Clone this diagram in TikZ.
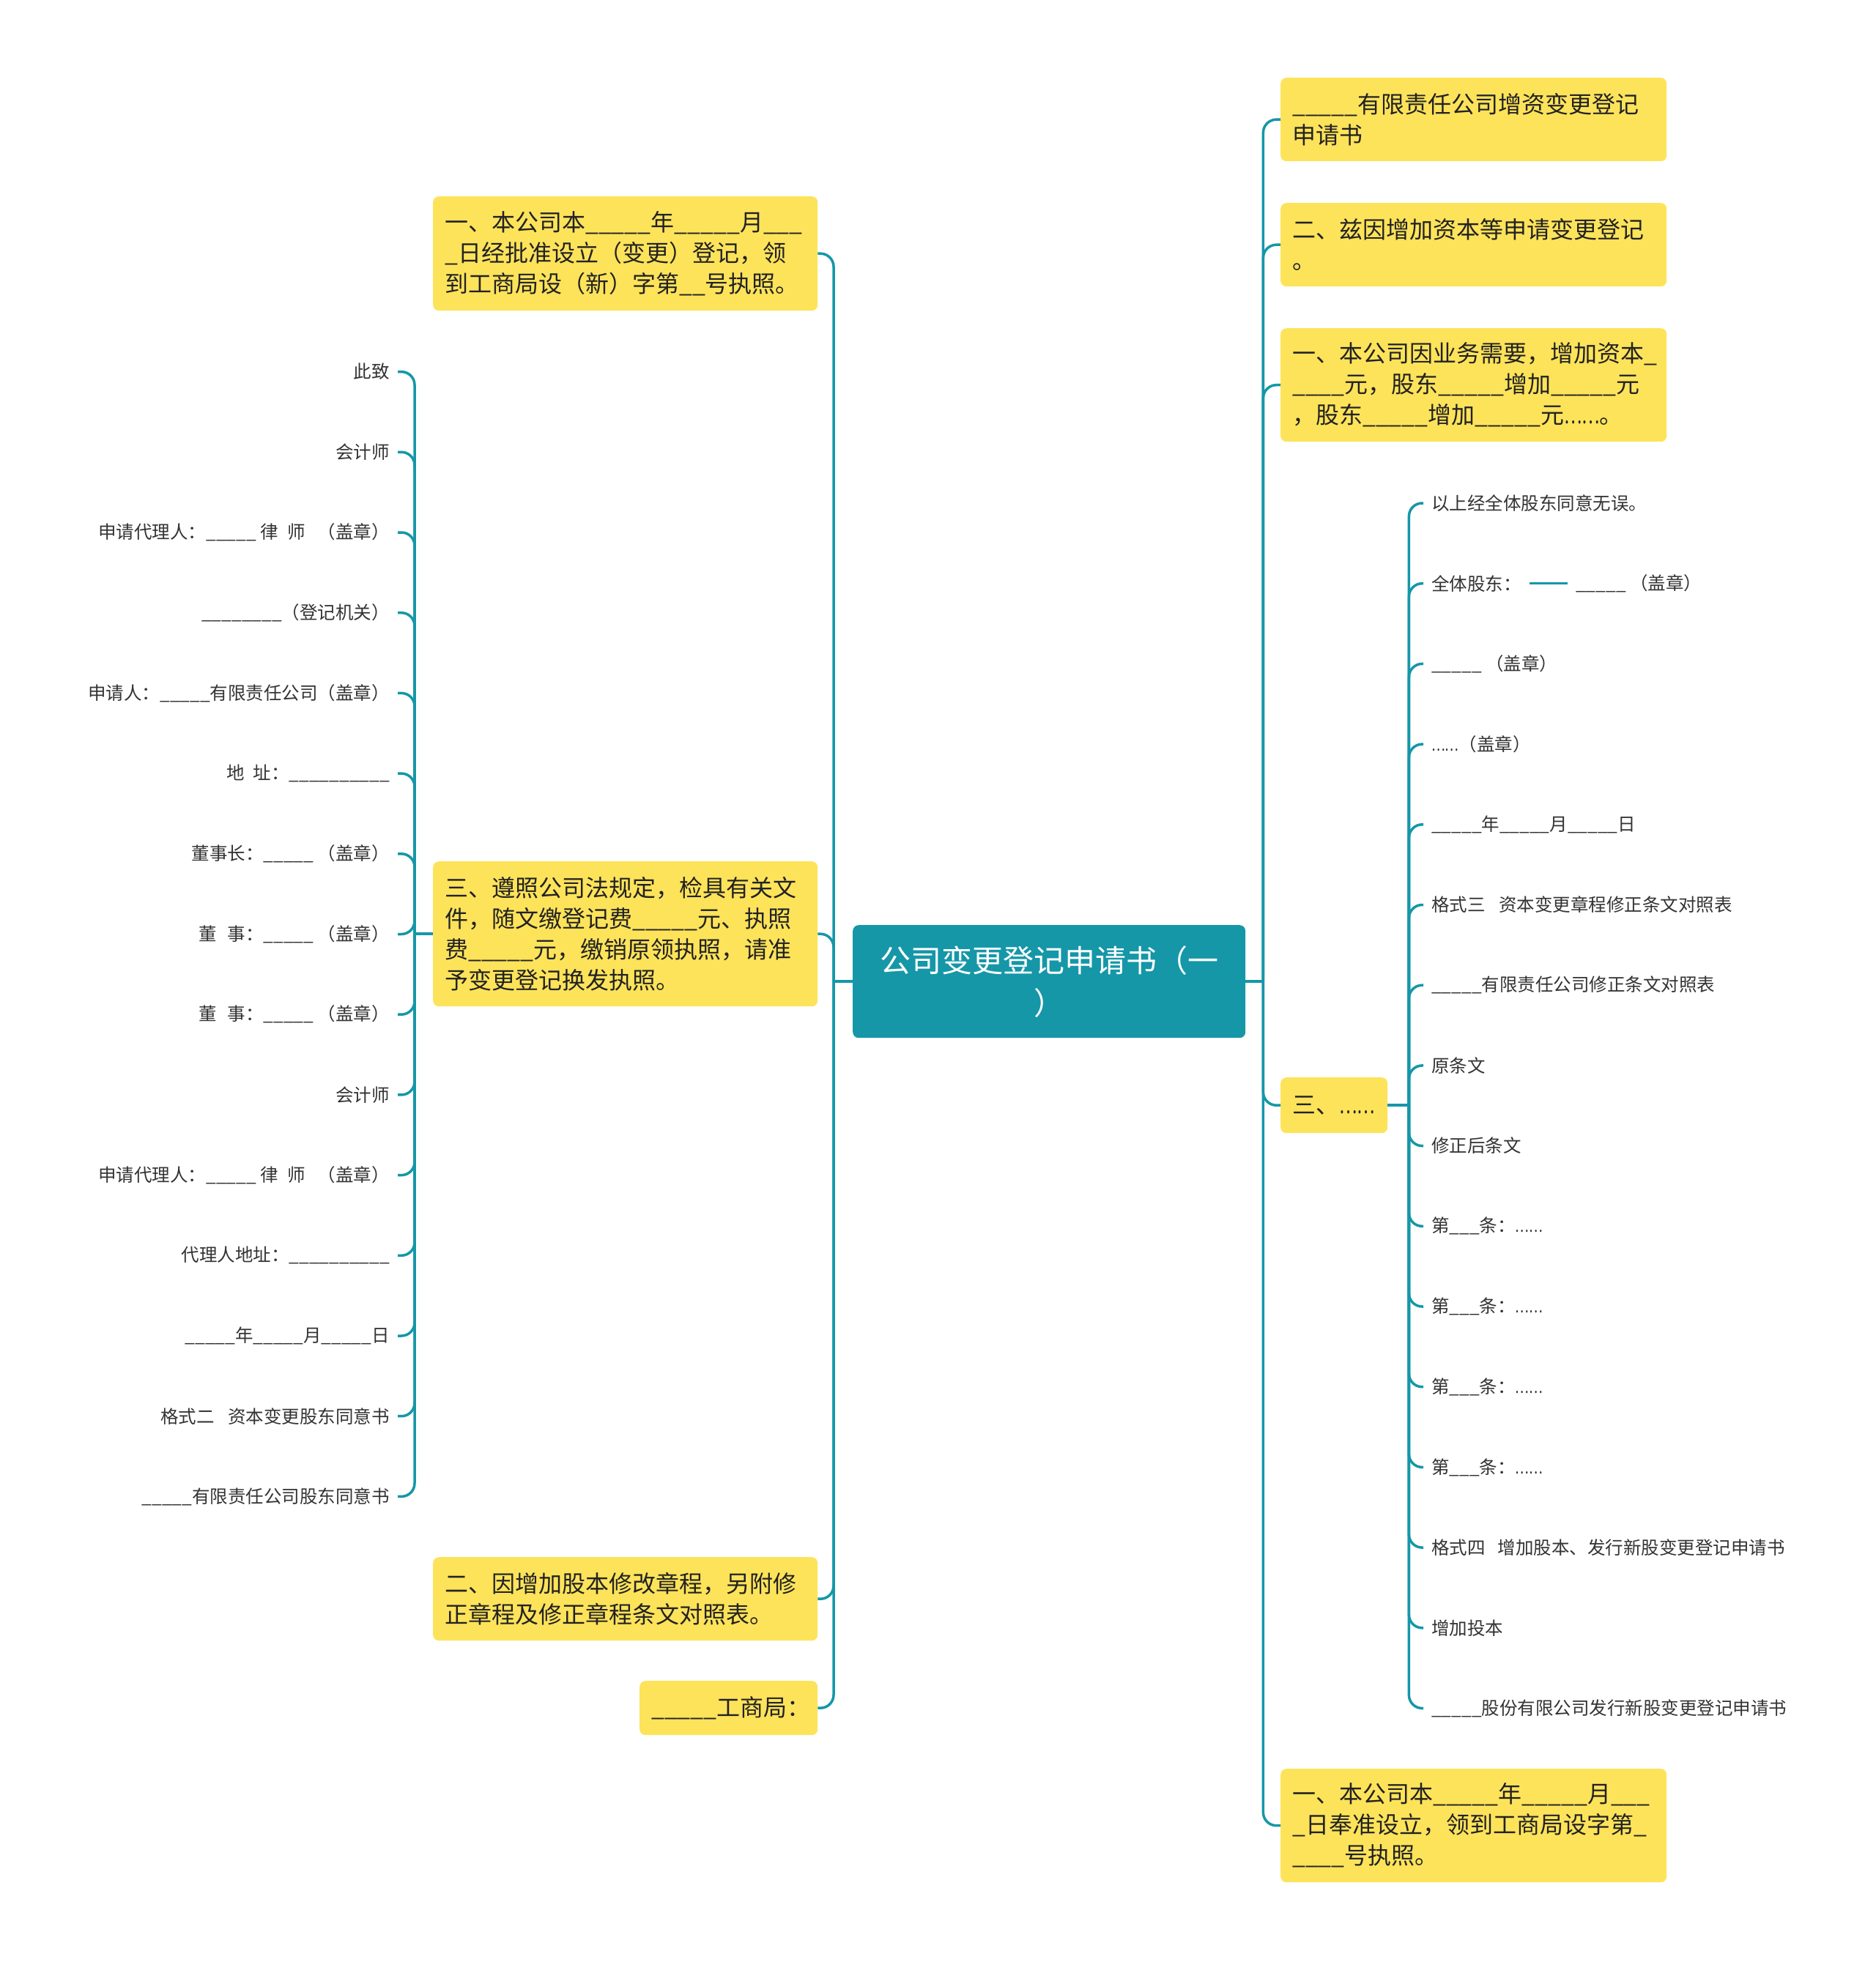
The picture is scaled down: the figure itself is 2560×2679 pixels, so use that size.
\documentclass[tikz,border=0pt]{standalone}
\usepackage{graphicx}
\usepackage{fontspec}
\setmainfont{Noto Sans CJK SC}
\definecolor{boxy}{HTML}{FDE35A}
\definecolor{tealc}{HTML}{1597A8}
\definecolor{txtc}{HTML}{222222}
\definecolor{leafc}{HTML}{333333}
\newcommand{\sixdots}{\scalebox{0.72}[1]{……}}
\tikzset{
  conn/.style={draw=tealc, line width=3.5pt, rounded corners=18pt},
  box/.style={fill=boxy, rounded corners=8pt, inner xsep=16pt, inner ysep=0pt, text=txtc, align=left, anchor=north west, font=\fontsize{32}{42}\selectfont},
  rootbox/.style={fill=tealc, rounded corners=8pt, inner xsep=16pt, inner ysep=0pt, text=white, align=center, anchor=north west, font=\fontsize{42}{58}\selectfont},
  leaf/.style={inner xsep=11pt, inner ysep=3pt, text=leafc, font=\fontsize{24.5}{29}\selectfont}
}
\begin{document}
\begin{tikzpicture}[x=1pt,y=-1pt]
\path[use as bounding box, fill=white] (0,0) rectangle (2560,2679);

% root
\node[rootbox, text width=504pt, minimum height=154pt] (root) at (1164,1263) {公司变更登记申请书（一\\）};

% left boxes
\node[box, text width=493pt, minimum height=156pt] (L1) at (591,268) {一、本公司本\_\_\_\_\_年\_\_\_\_\_月\_\_\_\\\_日经批准设立（变更）登记，领\\到工商局设（新）字第\_\_号执照。};
\node[box, text width=493pt, minimum height=198pt] (L2) at (591,1176) {三、遵照公司法规定，检具有关文\\件，随文缴登记费\_\_\_\_\_元、执照\\费\_\_\_\_\_元，缴销原领执照，请准\\予变更登记换发执照。};
\node[box, text width=493pt, minimum height=114pt] (L3) at (591,2126) {二、因增加股本修改章程，另附修\\正章程及修正章程条文对照表。};
\node[box, text width=211pt, minimum height=74pt] (L4) at (873,2295) {\_\_\_\_\_工商局：};

% right boxes
\node[box, text width=495pt, minimum height=114pt] (R1) at (1748,106) {\_\_\_\_\_有限责任公司增资变更登记\\申请书};
\node[box, text width=495pt, minimum height=114pt] (R2) at (1748,277) {二、兹因增加资本等申请变更登记\\。};
\node[box, text width=495pt, minimum height=155pt] (R3) at (1748,448) {一、本公司因业务需要，增加资本\_\\\_\_\_\_元，股东\_\_\_\_\_增加\_\_\_\_\_元\\，股东\_\_\_\_\_增加\_\_\_\_\_元\sixdots。};
\node[box, text width=114pt, minimum height=76pt] (R4) at (1748,1471) {三、\sixdots};
\node[box, text width=495pt, minimum height=155pt] (R5) at (1748,2415) {一、本公司本\_\_\_\_\_年\_\_\_\_\_月\_\_\_\\\_日奉准设立，领到工商局设字第\_\\\_\_\_\_号执照。};

% left leaves
\foreach \i/\lbl in {
  0/此致,
  1/会计师,
  2/申请代理人：\_\_\_\_\_ 律\hspace{0.5em}师\hspace{0.7em}（盖章）,
  3/\_\_\_\_\_\_\_\_（登记机关）,
  4/申请人：\_\_\_\_\_有限责任公司（盖章）,
  5/地\hspace{0.5em}址：\_\_\_\_\_\_\_\_\_\_,
  6/董事长：\_\_\_\_\_ （盖章）,
  7/董\hspace{0.6em}事：\_\_\_\_\_ （盖章）,
  8/董\hspace{0.6em}事：\_\_\_\_\_ （盖章）,
  9/会计师,
  10/申请代理人：\_\_\_\_\_ 律\hspace{0.5em}师\hspace{0.7em}（盖章）,
  11/代理人地址：\_\_\_\_\_\_\_\_\_\_,
  12/\_\_\_\_\_年\_\_\_\_\_月\_\_\_\_\_日,
  13/格式二\hspace{0.75em}资本变更股东同意书,
  14/\_\_\_\_\_有限责任公司股东同意书}
  \node[leaf, anchor=east] (ll\i) at (543, {507.6+\i*109.7}) {\lbl};

% right leaves
\foreach \i/\lbl in {
  0/以上经全体股东同意无误。,
  1/全体股东：,
  2/\_\_\_\_\_ （盖章）,
  3/\sixdots（盖章）,
  4/\_\_\_\_\_年\_\_\_\_\_月\_\_\_\_\_日,
  5/格式三\hspace{0.75em}资本变更章程修正条文对照表,
  6/\_\_\_\_\_有限责任公司修正条文对照表,
  7/原条文,
  8/修正后条文,
  9/第\_\_\_条：\sixdots,
  10/第\_\_\_条：\sixdots,
  11/第\_\_\_条：\sixdots,
  12/第\_\_\_条：\sixdots,
  13/格式四\hspace{0.7em}增加股本、发行新股变更登记申请书,
  14/增加投本,
  15/\_\_\_\_\_股份有限公司发行新股变更登记申请书}
  \node[leaf, anchor=west] (rl\i) at (1943, {687+\i*109.7}) {\lbl};
\node[leaf, anchor=west] (rlc) at (2140, 796.7) {\_\_\_\_\_ （盖章）};

% junction points
\coordinate (lj) at ([xshift=-26pt]root.west);
\coordinate (rj) at ([xshift=24pt]root.east);
\coordinate (lj2) at ([xshift=-25pt]L2.west);
\coordinate (rj2) at ([xshift=29pt]R4.east);

% main connectors
\draw[conn] (root.west) -- (lj);
\foreach \n in {L1,L2,L3,L4} \draw[conn] (lj) |- (\n.east);
\draw[conn] (root.east) -- (rj);
\foreach \n in {R1,R2,R3,R4,R5} \draw[conn] (rj) |- (\n.west);

% leaf connectors
\draw[conn] (L2.west) -- (lj2);
\foreach \i in {0,...,14} \draw[conn] (lj2) |- (ll\i.east);
\draw[conn] (R4.east) -- (rj2);
\foreach \i in {0,...,15} \draw[conn] (rj2) |- (rl\i.west);
\draw[conn] (rl1.east) -- (rlc.west);
\end{tikzpicture}
\end{document}
